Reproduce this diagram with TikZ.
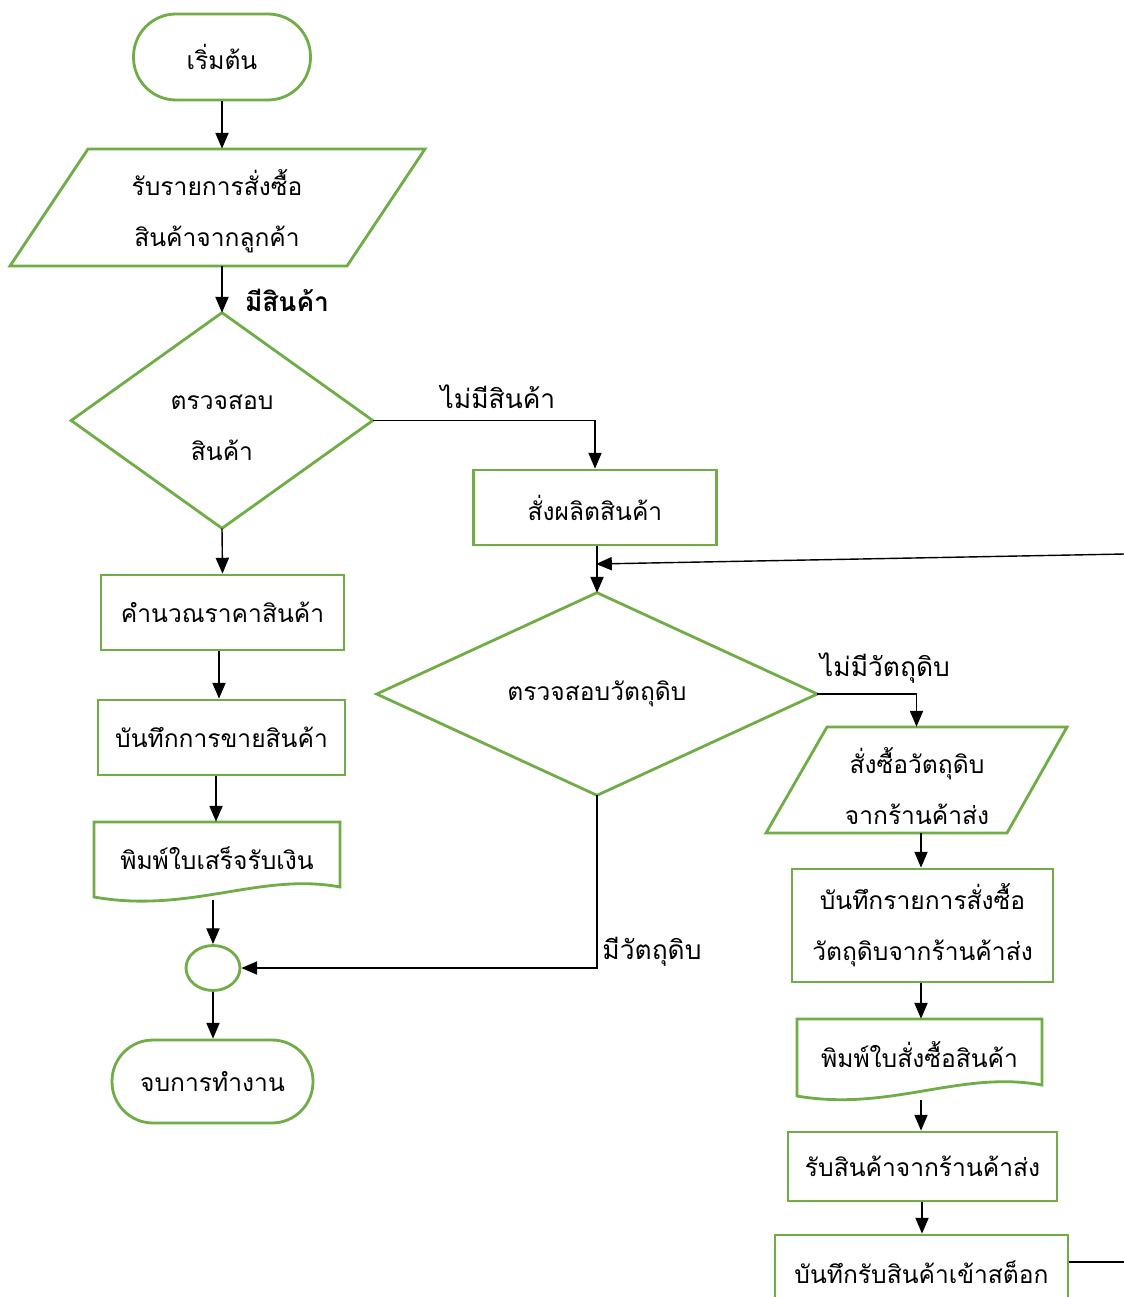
\documentclass[tikz,border=0pt]{standalone}
\usepackage{fontspec}
\newfontfamily\thai[Script=Thai]{Loma}
\usetikzlibrary{arrows.meta,shapes.geometric}
\definecolor{fg}{RGB}{112,173,71}
\begin{document}
\begin{tikzpicture}[x=0.02cm,y=-0.02cm,
  font=\thai\fontsize{14}{29}\selectfont,
  gline/.style={draw=fg,line width=1.6pt},
  txt/.style={align=center,inner sep=0pt},
  hold/.style={draw=none,inner sep=0pt},
  conn/.style={draw=black,line width=0.8pt,-{Triangle[length=9pt,width=7.5pt]}},
  plain/.style={draw=black,line width=0.8pt},
  lbl/.style={font=\thai\fontsize{15}{18}\selectfont,inner sep=0pt},
  lblb/.style={font=\thai\bfseries\fontsize{15}{18}\selectfont,inner sep=0pt}]
\useasboundingbox (0,0) rectangle (1123,1297);
\fill[white] (0,0) rectangle (1123,1297);

% ---------- left column ----------
\node[gline,rounded corners=0.85cm,minimum width=3.54cm,minimum height=1.72cm] (start) at (222,57) {เริ่มต้น};

\node[hold,minimum width=8.3cm,minimum height=2.34cm] (in1) at (217.5,207.5) {};
\draw[gline] (88,149) -- (425,149) -- (347,266) -- (10,266) -- cycle;
\node[txt] (in1t) at (217,211) {รับรายการสั่งซื้อ\\สินค้าจากลูกค้า};

\node[hold,minimum width=6.02cm,minimum height=4.3cm] (d1) at (222,420.5) {};
\draw[gline] (d1.north) -- (d1.east) -- (d1.south) -- (d1.west) -- cycle;
\node[txt] (d1t) at (222,428) {ตรวจสอบ\\สินค้า};

\node[gline,minimum width=4.86cm,minimum height=1.5cm] (c1) at (222.5,612.5) {คำนวณราคาสินค้า};
\node[gline,minimum width=4.94cm,minimum height=1.5cm] (c2) at (221.5,737.5) {บันทึกการขายสินค้า};

\node[hold,minimum width=4.92cm,minimum height=1.52cm] (doc1) at (217,860) {};
\draw[gline] (94,822) -- (340,822) -- (340,887) .. controls (260,872) and (190,914) .. (94,897) -- cycle;
\node[txt] (doc1t) at (217,858) {พิมพ์ใบเสร็จรับเงิน};

\node[gline,ellipse,minimum width=1.08cm,minimum height=0.9cm,inner sep=0pt] (cc) at (213,968) {};
\node[gline,rounded corners=0.82cm,minimum width=4.02cm,minimum height=1.66cm] (stop) at (212.5,1081.5) {จบการทำงาน};

% ---------- middle column ----------
\node[gline,minimum width=4.86cm,minimum height=1.5cm] (p1) at (595,507.5) {สั่งผลิตสินค้า};
\node[hold,minimum width=8.8cm,minimum height=4.04cm] (d2) at (597,694) {};
\draw[gline] (d2.north) -- (d2.east) -- (d2.south) -- (d2.west) -- cycle;
\node[txt] (d2t) at (597,694) {ตรวจสอบวัตถุดิบ};

% ---------- right column ----------
\node[hold,minimum width=6.02cm,minimum height=2.12cm] (in2) at (916.5,780) {};
\draw[gline] (827,727) -- (1067,727) -- (1007,833) -- (766,833) -- cycle;
\node[txt] (in2t) at (917,786) {สั่งซื้อวัตถุดิบ\\จากร้านค้าส่ง};

\node[gline,minimum width=5.22cm,minimum height=2.26cm,align=center] (b3) at (922.5,925.5) {บันทึกรายการสั่งซื้อ\\วัตถุดิบจากร้านค้าส่ง};

\node[hold,minimum width=4.9cm,minimum height=1.62cm] (doc2) at (919.5,1059.5) {};
\draw[gline] (797,1019) -- (1042,1019) -- (1042,1085) .. controls (960,1070) and (890,1112) .. (797,1096) -- cycle;
\node[txt] (doc2t) at (919.5,1055) {พิมพ์ใบสั่งซื้อสินค้า};

\node[gline,minimum width=5.38cm,minimum height=1.38cm] (b5) at (922.5,1166.5) {รับสินค้าจากร้านค้าส่ง};
\node[gline,minimum width=5.86cm,minimum height=1.48cm] (b6) at (921.5,1272) {บันทึกรับสินค้าเข้าสต็อก};

\coordinate (rt) at (1125,1262);
\coordinate (lt) at (1125,554);
\coordinate (lj) at (596,564);

% ---------- connectors ----------
\draw[conn] (start.south) -- (start.south |- in1.north);
\draw[conn] (start.south |- in1.south) -- (d1.north);
\node[lblb] (l1) at (287,300) {มีสินค้า};
\draw[conn] (d1.east) -| (p1.north);
\node[lbl] (l2) at (498,397) {ไม่มีสินค้า};
\draw[conn] (d1.south) -- (c1.north);
\draw[conn] (c1.south -| 219,0) -- (c2.north -| 219,0);
\draw[conn] (c2.south -| 216,0) -- (doc1.north -| 216,0);
\draw[conn] (cc.north |- 0,900) -- (cc.north);
\draw[conn] (cc.south) -- (stop.north -| cc.south);

\draw[conn] (p1.south -| d2.north) -- (d2.north);
\draw[conn] (lt) -- (lj);
\draw[conn] (d2.east) -| (in2.north);
\node[lbl] (l3) at (885,668) {ไม่มีวัตถุดิบ};
\draw[conn] (d2.south) |- (cc.east);
\node[lbl] (l4) at (652,952) {มีวัตถุดิบ};

\draw[conn] (in2.south -| 921,0) -- (b3.north -| 921,0);
\draw[conn] (b3.south -| 921,0) -- (doc2.north -| 921,0);
\draw[conn] (921,1100) -- (b5.north -| 921,0);
\draw[conn] (b5.south -| 922,0) -- (b6.north -| 922,0);
\draw[plain] (b6.east |- rt) -- (rt);
\end{tikzpicture}
\end{document}
